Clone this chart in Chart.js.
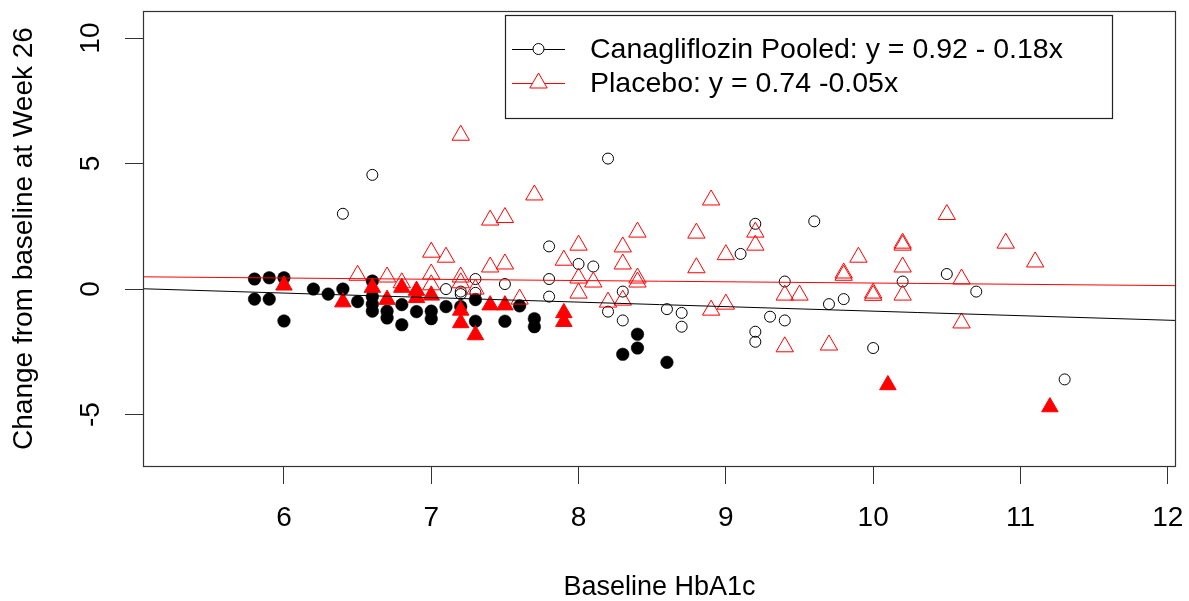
<!DOCTYPE html>
<html>
<head>
<meta charset="utf-8">
<script src="https://cdn.jsdelivr.net/npm/chart.js@4/dist/chart.umd.min.js"></script>
<style>
  html, body { margin: 0; padding: 0; background: #ffffff; }
  #c { display: block; }
</style>
</head>
<body>
<canvas id="c" width="1189" height="601"></canvas>
<script>
// ---------- data ----------
const canaOpen = [
  [6.4, 3.0], [6.6, 4.55], [7.1, 0.0], [7.2, -0.1], [7.2, -0.2], [7.3, 0.4], [7.3, -0.15],
  [7.5, 0.2], [7.8, 1.7], [7.8, 0.4], [7.8, -0.3], [8.0, 1.0], [8.1, 0.9], [8.2, 5.2],
  [8.2, -0.9], [8.3, -0.1], [8.3, -1.25], [8.6, -0.8], [8.7, -0.95], [8.7, -1.5],
  [9.1, 1.4], [9.2, 2.6], [9.2, -1.7], [9.2, -2.1], [9.3, -1.1], [9.4, 0.3], [9.4, -1.25],
  [9.6, 2.7], [9.7, -0.6], [9.8, -0.4], [10.0, -2.35], [10.2, 0.3], [10.5, 0.6],
  [10.7, -0.1], [11.3, -3.6]
];
const canaFilled = [
  [5.8, 0.4], [5.9, 0.45], [6.0, 0.45], [5.8, -0.4], [5.9, -0.4], [6.0, -1.27],
  [6.2, 0.0], [6.3, -0.2], [6.4, 0.0], [6.5, -0.5], [6.6, 0.32], [6.6, -0.3],
  [6.6, -0.6], [6.6, -0.88], [6.7, -0.88], [6.7, -1.15], [6.8, -0.62], [6.8, -1.42],
  [6.9, -0.9], [7.0, -0.88], [7.0, -1.18], [7.1, -0.7], [7.2, -0.7], [7.3, -0.42],
  [7.3, -1.28], [7.5, -1.28], [7.6, -0.67], [7.7, -1.18], [7.7, -1.5], [8.3, -2.6],
  [8.4, -1.8], [8.4, -2.35], [8.6, -2.92]
];
const placeboOpen = [
  [6.5, 0.55], [6.7, 0.48], [6.8, 0.25], [7.0, 1.47], [7.0, 0.6], [7.0, 0.17], [7.1, 1.27],
  [7.2, 6.13], [7.2, 0.48], [7.2, 0.25], [7.3, 0.0], [7.4, 2.75], [7.4, 0.88], [7.5, 2.85],
  [7.5, 1.0], [7.6, -0.4], [7.7, 3.75], [7.9, 1.15], [8.0, 1.75], [8.0, 0.44], [8.0, -0.16],
  [8.1, 0.28], [8.2, -0.52], [8.3, 1.68], [8.3, 1.0], [8.3, -0.44], [8.4, 2.27], [8.4, 0.44],
  [8.4, 0.28], [8.8, 2.23], [8.8, 0.85], [8.9, 3.55], [8.9, -0.84], [9.0, 1.37], [9.0, -0.6],
  [9.2, 2.27], [9.2, 1.75], [9.4, -0.24], [9.4, -2.3], [9.5, -0.24], [9.7, -2.23],
  [9.8, 0.64], [9.8, 0.55], [9.9, 1.27], [10.0, -0.16], [10.0, -0.25], [10.2, 1.83],
  [10.2, 1.75], [10.2, 0.88], [10.2, -0.24], [10.5, 2.97], [10.6, 0.4], [10.6, -1.35],
  [10.9, 1.83], [11.1, 1.08]
];
const placeboFilled = [
  [6.0, 0.15], [6.4, -0.52], [6.6, 0.06], [6.7, -0.42], [6.8, 0.06], [6.9, -0.06],
  [6.9, -0.35], [7.0, -0.25], [7.2, -0.85], [7.2, -1.35], [7.3, -1.83], [7.4, -0.64],
  [7.5, -0.64], [7.9, -0.95], [7.9, -1.3], [10.1, -3.82], [11.2, -4.7]
];
// regression lines: [intercept, slope]
const canaFit = [0.92, -0.18];
const placeboFit = [0.74, -0.05];
const legendLabels = ['Canagliflozin Pooled: y = 0.92 - 0.18x', 'Placebo: y = 0.74 -0.05x'];
const xTicks = [6, 7, 8, 9, 10, 11, 12];
const yTicks = [-5, 0, 5, 10];
const xRange = [5.043, 12.056];
const yRange = [-7.05, 11.08];
const xTitle = 'Baseline HbA1c';
const yTitle = 'Change from baseline at Week 26';

// ---------- helpers ----------
const FONT = "'Liberation Sans', Arial, sans-serif";
const toPts = arr => arr.map(p => ({ x: p[0], y: p[1] }));
const fitLine = f => xRange.map(x => ({ x: x, y: f[0] + f[1] * x }));
const noPad = s => { s.paddingTop = 0; s.paddingBottom = 0; s.paddingLeft = 0; s.paddingRight = 0; };

const boxPlugin = {
  id: 'boxAndLegend',
  afterDraw(chart) {
    const { ctx, chartArea: a } = chart;
    ctx.save();
    // plot box
    ctx.strokeStyle = '#333';
    ctx.lineWidth = 1.2;
    ctx.strokeRect(a.left + 0.5, a.top + 0.5, a.right - a.left - 1, a.bottom - a.top);
    // legend box
    const L = { x: 505, y: 15, w: 607, h: 103 };
    ctx.fillStyle = '#fff';
    ctx.fillRect(L.x, L.y, L.w, L.h);
    ctx.strokeStyle = '#222';
    ctx.lineWidth = 1.2;
    ctx.strokeRect(L.x + 0.5, L.y + 0.5, L.w, L.h);
    const rows = [
      { y: 49, color: '#000', shape: 'circle' },
      { y: 83, color: '#ff0000', shape: 'triangle' }
    ];
    rows.forEach((r, i) => {
      ctx.strokeStyle = r.color;
      ctx.lineWidth = 1;
      ctx.beginPath();
      ctx.moveTo(512, r.y + 0.5);
      ctx.lineTo(565, r.y + 0.5);
      ctx.stroke();
      ctx.fillStyle = '#fff';
      ctx.beginPath();
      if (r.shape === 'circle') {
        ctx.arc(538.5, r.y, 5.5, 0, Math.PI * 2);
      } else {
        const rad = 10, cx = 538.5, cy = r.y;
        for (let k = 0; k < 3; k++) {
          const ang = k * 2 * Math.PI / 3;
          const px = cx + Math.sin(ang) * rad, py = cy - Math.cos(ang) * rad;
          if (k === 0) ctx.moveTo(px, py); else ctx.lineTo(px, py);
        }
        ctx.closePath();
      }
      ctx.fill();
      ctx.stroke();
      ctx.fillStyle = '#000';
      ctx.font = '28.5px ' + FONT;
      ctx.textBaseline = 'middle';
      ctx.textAlign = 'left';
      ctx.fillText(legendLabels[i], 590, r.y + 1);
    });
    ctx.restore();
  }
};

new Chart(document.getElementById('c'), {
  type: 'scatter',
  data: {
    datasets: [
      { type: 'line', data: fitLine(canaFit), borderColor: '#000', borderWidth: 1, pointRadius: 0, fill: false, tension: 0 },
      { type: 'line', data: fitLine(placeboFit), borderColor: '#ff0000', borderWidth: 1, pointRadius: 0, fill: false, tension: 0 },
      { label: 'Placebo filled', data: toPts(placeboFilled), pointStyle: 'triangle', pointRadius: 9.5,
        backgroundColor: '#ff0000', borderColor: '#ff0000', borderWidth: 1 },
      { label: 'Placebo', data: toPts(placeboOpen), pointStyle: 'triangle', pointRadius: 10,
        backgroundColor: 'rgba(0,0,0,0)', borderColor: '#ff0000', borderWidth: 1 },
      { label: 'Cana filled', data: toPts(canaFilled), pointStyle: 'circle', pointRadius: 6.3,
        backgroundColor: '#000', borderColor: '#000', borderWidth: 0.5 },
      { label: 'Canagliflozin Pooled', data: toPts(canaOpen), pointStyle: 'circle', pointRadius: 5.5,
        backgroundColor: 'rgba(0,0,0,0)', borderColor: '#000', borderWidth: 1 }
    ]
  },
  options: {
    responsive: false,
    devicePixelRatio: 1,
    animation: false,
    events: [],
    layout: { padding: { left: 0, right: 13, top: 11, bottom: 0 } },
    plugins: { legend: { display: false }, tooltip: { enabled: false } },
    scales: {
      x: {
        type: 'linear', position: 'bottom', min: xRange[0], max: xRange[1],
        afterBuildTicks: s => { s.ticks = xTicks.map(v => ({ value: v })); },
        afterFit: s => { s.height = 135; noPad(s); },
        grid: { drawOnChartArea: false, drawTicks: true, tickLength: 18, color: '#333', lineWidth: 1 },
        border: { display: false },
        ticks: { color: '#000', padding: 17, maxRotation: 0, font: { family: FONT, size: 28 } },
        title: { display: true, text: xTitle, color: '#000', padding: { top: 0, bottom: 0 },
                 font: { family: FONT, size: 27, lineHeight: 1 } }
      },
      y: {
        type: 'linear', position: 'left', min: yRange[0], max: yRange[1],
        afterBuildTicks: s => { s.ticks = yTicks.map(v => ({ value: v })); },
        afterFit: s => { s.width = 143; noPad(s); },
        grid: { drawOnChartArea: false, drawTicks: true, tickLength: 18, color: '#333', lineWidth: 1 },
        border: { display: false },
        ticks: { color: '#000', padding: 18, minRotation: 90, maxRotation: 90, crossAlign: 'center',
                 font: { family: FONT, size: 28 } },
        title: { display: true, text: yTitle, color: '#000', padding: { top: 10, bottom: 0 },
                 font: { family: FONT, size: 28, lineHeight: 1 } }
      }
    }
  },
  plugins: [boxPlugin]
});
</script>
</body>
</html>
